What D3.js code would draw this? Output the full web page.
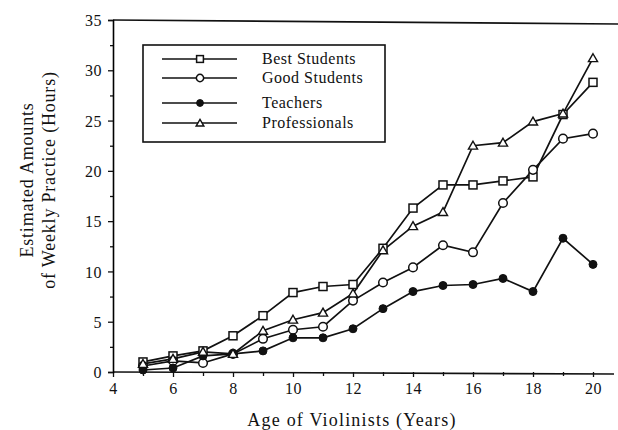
<!DOCTYPE html>
<html>
<head>
<meta charset="utf-8">
<script src="https://cdn.jsdelivr.net/npm/d3@7"></script>
<style>
  body { margin: 0; background: #fff; }
  svg { display: block; }
  text { font-family: "Liberation Serif", "Times New Roman", serif; fill: #111; }
</style>
</head>
<body>
<div class="container"></div>
<script>
const width = 618,
    height = 430;

const ages = [5, 6, 7, 8, 9, 10, 11, 12, 13, 14, 15, 16, 17, 18, 19, 20];
const bestStudents  = [1.0, 1.6, 2.1, 3.6, 5.6, 7.9, 8.5, 8.7, 12.3, 16.3, 18.6, 18.6, 19.0, 19.4, 25.6, 28.8];
const goodStudents  = [0.6, 1.1, 0.9, 1.8, 3.3, 4.2, 4.5, 7.1, 8.9, 10.4, 12.6, 11.9, 16.8, 20.1, 23.2, 23.7];
const teachers      = [0.2, 0.4, 1.6, 1.8, 2.1, 3.4, 3.4, 4.3, 6.3, 8.0, 8.6, 8.7, 9.3, 8.0, 13.3, 10.7];
const professionals = [0.8, 1.3, 2.0, 1.8, 4.1, 5.2, 5.9, 7.8, 12.1, 14.5, 15.9, 22.5, 22.8, 24.9, 25.7, 31.2];

const seriesNames = ['Best Students', 'Good Students', 'Teachers', 'Professionals'];
const seriesShapes = ['square', 'circle', 'dot', 'triangle'];
const seriesValues = [bestStudents, goodStudents, teachers, professionals];

const xTicks = [4, 6, 8, 10, 12, 14, 16, 18, 20];
const yTicks = [0, 5, 10, 15, 20, 25, 30, 35];

const x = d3.scaleLinear().domain([4, 20]).range([113, 593]);
const y = d3.scaleLinear().domain([0, 35]).range([372, 20]);

const svg = d3.select('.container')
    .append('svg')
    .attr('width', width)
    .attr('height', height);

// frame: top line and extended x axis
svg.append('line')
    .attr('x1', x(4)).attr('x2', 618)
    .attr('y1', y(35)).attr('y2', y(35) + 4)
    .attr('stroke', '#111').attr('stroke-width', 1.6);

svg.append('line')
    .attr('x1', x(4)).attr('x2', 614)
    .attr('y1', y(0)).attr('y2', y(0) + 2)
    .attr('stroke', '#111').attr('stroke-width', 1.6);

// minor ticks
svg.append('g')
    .attr('transform', `translate(0, ${y(0)})`)
    .call(d3.axisBottom(x).tickValues(d3.range(5, 21, 2)).tickSize(4).tickFormat(''))
    .call(g => g.select('.domain').remove());

svg.append('g')
    .attr('transform', `translate(${x(4)}, 0)`)
    .call(d3.axisLeft(y).tickValues(d3.range(2.5, 35, 5)).tickSize(3).tickFormat(''))
    .call(g => g.select('.domain').remove());

const xAxis = svg.append('g')
    .attr('transform', `translate(0, ${y(0)})`)
    .call(d3.axisBottom(x).tickValues(xTicks).tickSize(5).tickPadding(6));
xAxis.select('.domain').remove();

const yAxis = svg.append('g')
    .attr('transform', `translate(${x(4)}, 0)`)
    .call(d3.axisLeft(y).tickValues(yTicks).tickSize(5).tickPadding(6));
yAxis.select('.domain').attr('stroke-width', 1.6);

svg.selectAll('.tick line').attr('stroke', '#111').attr('stroke-width', 1.3);
svg.selectAll('.tick text')
    .style('font-family', '"Liberation Serif", serif')
    .style('font-size', '16px')
    .style('letter-spacing', '0.5px')
    .attr('fill', '#111');
yAxis.selectAll('.tick text').attr('dy', '0.35em');

// axis titles
svg.append('text')
    .attr('x', 352).attr('y', 426)
    .attr('text-anchor', 'middle')
    .style('font-size', '18px')
    .style('letter-spacing', '1.2px')
    .text('Age of Violinists (Years)');

svg.append('text')
    .attr('transform', 'translate(33, 180) rotate(-90)')
    .attr('text-anchor', 'middle')
    .style('font-size', '18px')
    .style('letter-spacing', '0.8px')
    .text('Estimated Amounts');

svg.append('text')
    .attr('transform', 'translate(55, 180) rotate(-90)')
    .attr('text-anchor', 'middle')
    .style('font-size', '18px')
    .style('letter-spacing', '0.8px')
    .text('of Weekly Practice (Hours)');

// markers
function drawMarker(sel, shape, s) {
    if (shape === 'square') {
        sel.append('rect')
            .attr('x', -4 * s).attr('y', -4 * s)
            .attr('width', 8 * s).attr('height', 8 * s)
            .attr('fill', '#fff').attr('stroke', '#111').attr('stroke-width', 1.5);
    } else if (shape === 'circle') {
        sel.append('circle')
            .attr('r', 4.3 * s)
            .attr('fill', '#fff').attr('stroke', '#111').attr('stroke-width', 1.5);
    } else if (shape === 'dot') {
        sel.append('circle')
            .attr('r', 4 * s)
            .attr('fill', '#111').attr('stroke', '#111').attr('stroke-width', 1);
    } else {
        sel.append('path')
            .attr('d', d3.symbol(d3.symbolTriangle, 36 * s * s)())
            .attr('transform', 'translate(0, 0.8)')
            .attr('fill', '#fff').attr('stroke', '#111').attr('stroke-width', 1.4);
    }
}

const line = d3.line()
    .x(d => x(d.age))
    .y(d => y(d.value));

seriesValues.forEach((vals, i) => {
    const pts = ages.map((a, j) => ({ age: a, value: vals[j] }));
    svg.append('path')
        .datum(pts)
        .attr('fill', 'none')
        .attr('stroke', '#111')
        .attr('stroke-width', 1.7)
        .attr('d', line);
});

seriesValues.forEach((vals, i) => {
    const pts = ages.map((a, j) => ({ age: a, value: vals[j] }));
    svg.append('g')
        .selectAll('g')
        .data(pts)
        .enter()
        .append('g')
        .attr('transform', d => `translate(${x(d.age)}, ${y(d.value)})`)
        .each(function() { drawMarker(d3.select(this), seriesShapes[i], 1); });
});

// legend
const legend = svg.append('g');
legend.append('rect')
    .attr('x', 143).attr('y', 45)
    .attr('width', 242).attr('height', 97)
    .attr('fill', '#fff')
    .attr('stroke', '#111')
    .attr('stroke-width', 1.6);

const legendRows = [59, 78, 103, 123];
seriesNames.forEach((name, i) => {
    const row = legend.append('g').attr('transform', `translate(0, ${legendRows[i]})`);
    row.append('line')
        .attr('x1', 162).attr('x2', 237)
        .attr('stroke', '#111').attr('stroke-width', 1.5);
    const m = row.append('g').attr('transform', 'translate(200, 0)');
    drawMarker(m, seriesShapes[i], 0.85);
    row.append('text')
        .attr('x', 262).attr('y', 5)
        .style('font-size', '16px')
        .style('letter-spacing', '0.5px')
        .text(name);
});
</script>
</body>
</html>
